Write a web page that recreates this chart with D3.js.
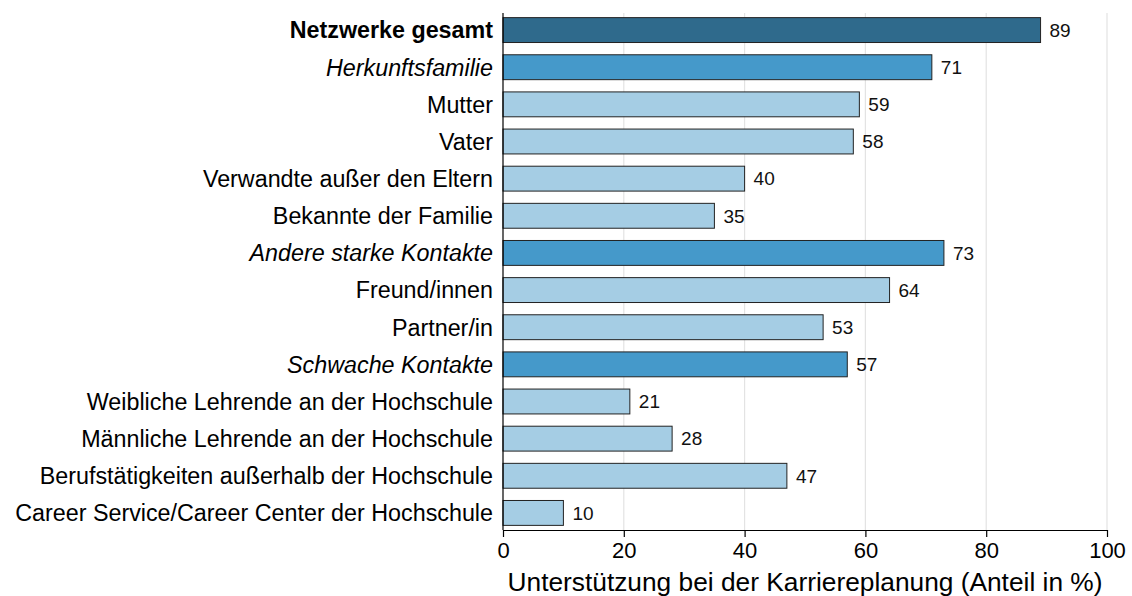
<!DOCTYPE html>
<html><head><meta charset="utf-8">
<script src="https://cdn.jsdelivr.net/npm/d3@7"></script>
<style>body{margin:0;background:#fff;} text{font-family:"Liberation Sans",Arial,sans-serif;}</style>
</head><body>
<svg id="c" width="1132" height="596"></svg>
<script>
const categories = ["Netzwerke gesamt","Herkunftsfamilie","Mutter","Vater","Verwandte außer den Eltern","Bekannte der Familie","Andere starke Kontakte","Freund/innen","Partner/in","Schwache Kontakte","Weibliche Lehrende an der Hochschule","Männliche Lehrende an der Hochschule","Berufstätigkeiten außerhalb der Hochschule","Career Service/Career Center der Hochschule"];
const values = [89,71,59,58,40,35,73,64,53,57,21,28,47,10];
const levels = ["total","group","item","item","item","item","group","item","item","group","item","item","item","item"];
const xTicks = [0,20,40,60,80,100];
const xTitle = "Unterstützung bei der Karriereplanung (Anteil in %)";

const colors = {total:"#2f6a8c", group:"#4599ca", item:"#a5cde4"};
const FF = "'Liberation Sans',Arial,sans-serif";
const svg = d3.select("#c");
const x = d3.scaleLinear().domain([0,100]).range([503,1107]);
const y = d3.scaleBand().domain(categories).range([11.5,531.5]).paddingInner(0.33).paddingOuter(0.165);

// grid
svg.append("g").selectAll("line").data(xTicks.filter(d=>d>0)).join("line")
  .attr("x1",d=>x(d)).attr("x2",d=>x(d)).attr("y1",13).attr("y2",530)
  .attr("stroke","#e3e3e3").attr("stroke-width",1.2);

// bars
svg.append("g").selectAll("rect").data(categories).join("rect")
  .attr("x",x(0)).attr("y",d=>y(d)).attr("width",(d,i)=>x(values[i])-x(0)).attr("height",y.bandwidth())
  .attr("fill",(d,i)=>colors[levels[i]]).attr("stroke","#222").attr("stroke-width",1);

// value labels
svg.append("g").selectAll("text").data(categories).join("text")
  .attr("x",(d,i)=>x(values[i])+9).attr("y",d=>y(d)+y.bandwidth()/2).attr("dy","0.36em")
  .attr("font-size",19).attr("fill","#111").text((d,i)=>values[i]);

// y axis
const ya = svg.append("g").attr("transform",`translate(${x(0)},0)`)
  .call(d3.axisLeft(y).tickSize(0).tickPadding(10));
ya.select(".domain").remove();
svg.append("line").attr("x1",x(0)).attr("x2",x(0)).attr("y1",13).attr("y2",530).attr("stroke","#000").attr("stroke-width",1.2);
ya.selectAll("text").attr("font-size",23.3).attr("fill","#000").attr("dy","0.36em")
  .style("font-family",FF)
  .attr("font-weight",(d,i)=>levels[i]==="total"?"bold":"normal")
  .attr("font-style",(d,i)=>levels[i]==="group"?"italic":"normal");

// x axis
const xa = svg.append("g").attr("transform","translate(0,530)")
  .call(d3.axisBottom(x).tickValues(xTicks).tickSize(7).tickPadding(5).tickSizeOuter(0));
xa.select(".domain").attr("stroke","#000").attr("stroke-width",1.2);
xa.selectAll(".tick line").attr("stroke","#000").attr("stroke-width",1.2);
xa.selectAll("text").attr("font-size",22).attr("fill","#000").style("font-family",FF);

svg.append("text").attr("x",805).attr("y",591).attr("text-anchor","middle")
  .attr("font-size",26.3).attr("fill","#000").text(xTitle);
</script>
</body></html>
